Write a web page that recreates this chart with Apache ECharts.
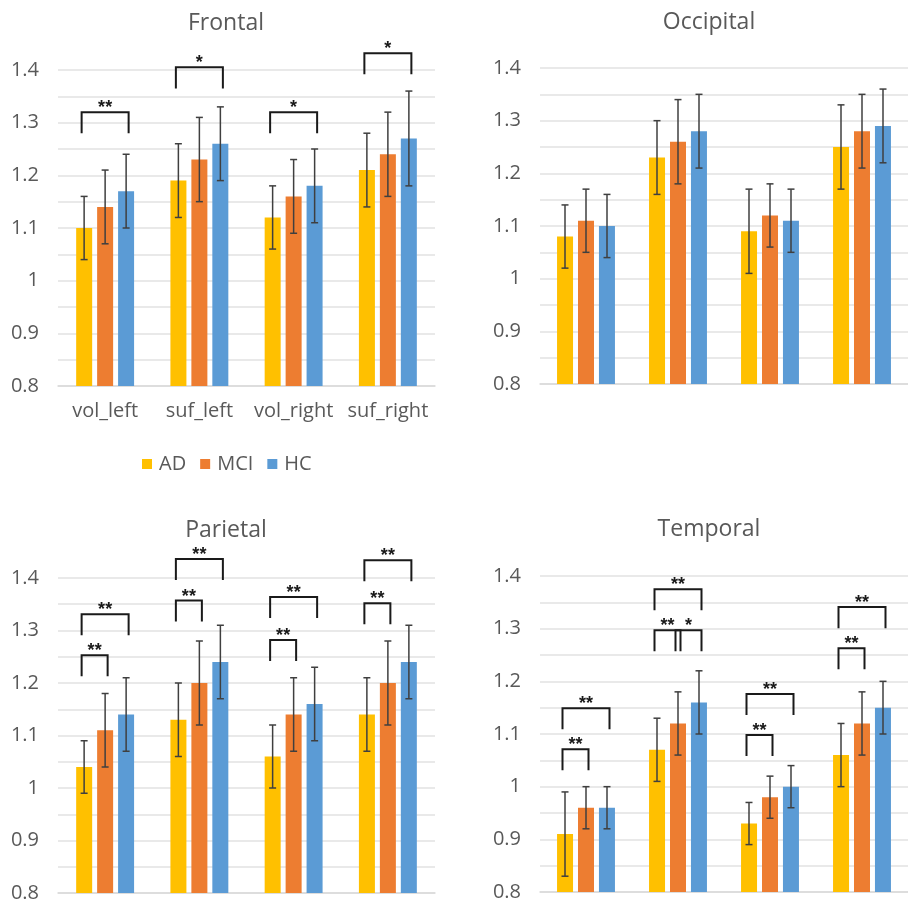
<!DOCTYPE html>
<html>
<head>
<meta charset="utf-8">
<script src="https://cdn.jsdelivr.net/npm/echarts@6/dist/echarts.min.js"></script>
<style>
  html, body { margin: 0; padding: 0; background: #fff; }
  #chart { width: 908px; height: 905px; }
</style>
</head>
<body>
<div id="chart"></div>
<script>
// ---- data ----
const categories = ['vol_left', 'suf_left', 'vol_right', 'suf_right'];
const groups = ['AD', 'MCI', 'HC'];
const yTicks = [0.8, 0.9, 1, 1.1, 1.2, 1.3, 1.4];

const frontalAD  = [1.10, 1.19, 1.12, 1.21];
const frontalMCI = [1.14, 1.23, 1.16, 1.24];
const frontalHC  = [1.17, 1.26, 1.18, 1.27];
const frontalADErr  = [0.06, 0.07, 0.06, 0.07];
const frontalMCIErr = [0.07, 0.08, 0.07, 0.08];
const frontalHCErr  = [0.07, 0.07, 0.07, 0.09];

const occipitalAD  = [1.08, 1.23, 1.09, 1.25];
const occipitalMCI = [1.11, 1.26, 1.12, 1.28];
const occipitalHC  = [1.10, 1.28, 1.11, 1.29];
const occipitalADErr  = [0.06, 0.07, 0.08, 0.08];
const occipitalMCIErr = [0.06, 0.08, 0.06, 0.07];
const occipitalHCErr  = [0.06, 0.07, 0.06, 0.07];

const parietalAD  = [1.04, 1.13, 1.06, 1.14];
const parietalMCI = [1.11, 1.20, 1.14, 1.20];
const parietalHC  = [1.14, 1.24, 1.16, 1.24];
const parietalADErr  = [0.05, 0.07, 0.06, 0.07];
const parietalMCIErr = [0.07, 0.08, 0.07, 0.08];
const parietalHCErr  = [0.07, 0.07, 0.07, 0.07];

const temporalAD  = [0.91, 1.07, 0.93, 1.06];
const temporalMCI = [0.96, 1.12, 0.98, 1.12];
const temporalHC  = [0.96, 1.16, 1.00, 1.15];
const temporalADErr  = [0.08, 0.06, 0.04, 0.06];
const temporalMCIErr = [0.04, 0.06, 0.04, 0.06];
const temporalHCErr  = [0.04, 0.06, 0.04, 0.05];

// significance brackets: [category, fromGroup, toGroup, bracketLevel, label]
const frontalSig = [[0, 0, 2, 1.32, '**'], [1, 0, 2, 1.405, '*'], [2, 0, 2, 1.32, '*'], [3, 0, 2, 1.432, '*']];
const occipitalSig = [];
const parietalSig = [
  [0, 0, 1, 1.253, '**'], [0, 0, 2, 1.331, '**'],
  [1, 0, 1, 1.357, '**'], [1, 0, 2, 1.436, '**'],
  [2, 0, 1, 1.282, '**'], [2, 0, 2, 1.364, '**'],
  [3, 0, 1, 1.352, '**'], [3, 0, 2, 1.434, '**']
];
const temporalSig = [
  [0, 0, 1, 1.071, '**'], [0, 0, 2, 1.149, '**'],
  [1, 0, 1, 1.297, '**'], [1, 1, 2, 1.297, '*'], [1, 0, 2, 1.375, '**'],
  [2, 0, 1, 1.098, '**'], [2, 0, 2, 1.176, '**'],
  [3, 0, 1, 1.263, '**'], [3, 0, 2, 1.341, '**']
];

// ---- layout / style ----
const colors = ['#FFC000', '#ED7D31', '#5B9BD5'];
const BAR_W = 16, BAR_STEP = 21, LEG = 0.04;
const labelFont = 'Open Sans';
const titleFont = 'Open Sans';

const panels = [
  { title: 'Frontal',   means: [frontalAD, frontalMCI, frontalHC],   errs: [frontalADErr, frontalMCIErr, frontalHCErr],   sig: frontalSig,
    grid: { left: 58, top: 70, width: 377, height: 316 }, tx: 221, ty: 7, showX: true },
  { title: 'Occipital', means: [occipitalAD, occipitalMCI, occipitalHC], errs: [occipitalADErr, occipitalMCIErr, occipitalHCErr], sig: occipitalSig,
    grid: { left: 540, top: 68, width: 377, height: 316 }, tx: 704, ty: 6, showX: false },
  { title: 'Parietal',  means: [parietalAD, parietalMCI, parietalHC], errs: [parietalADErr, parietalMCIErr, parietalHCErr], sig: parietalSig,
    grid: { left: 58, top: 578, width: 377, height: 315 }, tx: 221, ty: 514, showX: false },
  { title: 'Temporal',  means: [temporalAD, temporalMCI, temporalHC], errs: [temporalADErr, temporalMCIErr, temporalHCErr], sig: temporalSig,
    grid: { left: 540, top: 576, width: 377, height: 316 }, tx: 704, ty: 513, showX: false }
];

const option = {
  animation: false,
  backgroundColor: '#fff',
  title: [], grid: [], xAxis: [], yAxis: [], series: [],
  legend: {
    data: groups, left: 137, top: 449, itemWidth: 10, itemHeight: 10, itemGap: 14,
    icon: 'rect',
    textStyle: { fontFamily: labelFont, fontSize: 20, color: '#595959', padding: [0, 0, 0, 2] }
  }
};

panels.forEach((p, i) => {
  option.title.push({
    text: p.title, left: p.tx, top: p.ty, textAlign: 'center',
    textStyle: { fontFamily: titleFont, fontSize: 23, fontWeight: 'normal', color: '#595959' }
  });
  option.grid.push(Object.assign({ containLabel: false }, p.grid));
  option.xAxis.push({
    type: 'category', gridIndex: i, data: categories,
    axisLine: { show: true, lineStyle: { color: '#D9D9D9', width: 1.5 } },
    axisTick: { show: false },
    axisLabel: { show: p.showX, interval: 0, fontFamily: labelFont, fontSize: 20, color: '#595959', margin: 15 }
  });
  option.yAxis.push({
    type: 'value', gridIndex: i, min: 0.8, max: 1.4, interval: 0.05,
    axisLine: { show: false }, axisTick: { show: false },
    splitLine: { show: true, lineStyle: { color: '#E2E2E2', width: 1.5 } },
    axisLabel: {
      fontFamily: labelFont, fontSize: 20, color: '#595959', margin: 19,
      formatter: v => {
        const t = yTicks.find(k => Math.abs(k - v) < 1e-6);
        return t === undefined ? '' : String(t);
      }
    }
  });
  groups.forEach((g, gi) => {
    option.series.push({
      type: 'bar', name: g, xAxisIndex: i, yAxisIndex: i,
      data: p.means[gi], barWidth: BAR_W, barGap: '31%',
      itemStyle: { color: colors[gi] }, z: 2
    });
  });
  // error bars
  const errData = [];
  groups.forEach((g, gi) => {
    p.means[gi].forEach((m, c) => {
      errData.push([c, gi, +(m - p.errs[gi][c]).toFixed(3), +(m + p.errs[gi][c]).toFixed(3)]);
    });
  });
  option.series.push({
    type: 'custom', name: 'err' + i, xAxisIndex: i, yAxisIndex: i, z: 5, silent: true,
    encode: { x: 0, y: [2, 3] },
    data: errData,
    renderItem: (params, api) => {
      const c = api.value(0), gi = api.value(1);
      const lo = api.coord([c, api.value(2)]);
      const hi = api.coord([c, api.value(3)]);
      const x = lo[0] + (gi - 1) * BAR_STEP;
      const st = { stroke: '#3F3F3F', lineWidth: 1.5 };
      return {
        type: 'group', children: [
          { type: 'line', shape: { x1: x, y1: lo[1], x2: x, y2: hi[1] }, style: st },
          { type: 'line', shape: { x1: x - 3.5, y1: lo[1], x2: x + 3.5, y2: lo[1] }, style: st },
          { type: 'line', shape: { x1: x - 3.5, y1: hi[1], x2: x + 3.5, y2: hi[1] }, style: st }
        ]
      };
    }
  });
  // significance brackets
  if (p.sig.length) {
    const sig = p.sig;
    option.series.push({
      type: 'custom', name: 'sig' + i, xAxisIndex: i, yAxisIndex: i, z: 6, silent: true, clip: false,
      encode: { x: 0, y: 1 },
      data: sig.map(s => [s[0], s[3]]),
      renderItem: (params, api) => {
        const s = sig[params.dataIndex];
        const top = api.coord([s[0], s[3]]);
        const bot = api.coord([s[0], s[3] - LEG]);
        const x1 = top[0] + (s[1] - 1) * BAR_STEP - 2.5;
        const x2 = top[0] + (s[2] - 1) * BAR_STEP + 2.5;
        const st = { stroke: '#1a1a1a', lineWidth: 2, fill: null };
        return {
          type: 'group', children: [
            { type: 'polyline', shape: { points: [[x1, bot[1]], [x1, top[1]], [x2, top[1]], [x2, bot[1]]] }, style: st },
            { type: 'text', x: (x1 + x2) / 2, y: top[1] + 5,
              style: { text: s[4], fill: '#1a1a1a', font: 'bold 18px "Liberation Sans"', align: 'center', verticalAlign: 'bottom' } }
          ]
        };
      }
    });
  }
});

const chart = echarts.init(document.getElementById('chart'), null, { renderer: 'canvas' });
chart.setOption(option);
</script>
</body>
</html>
